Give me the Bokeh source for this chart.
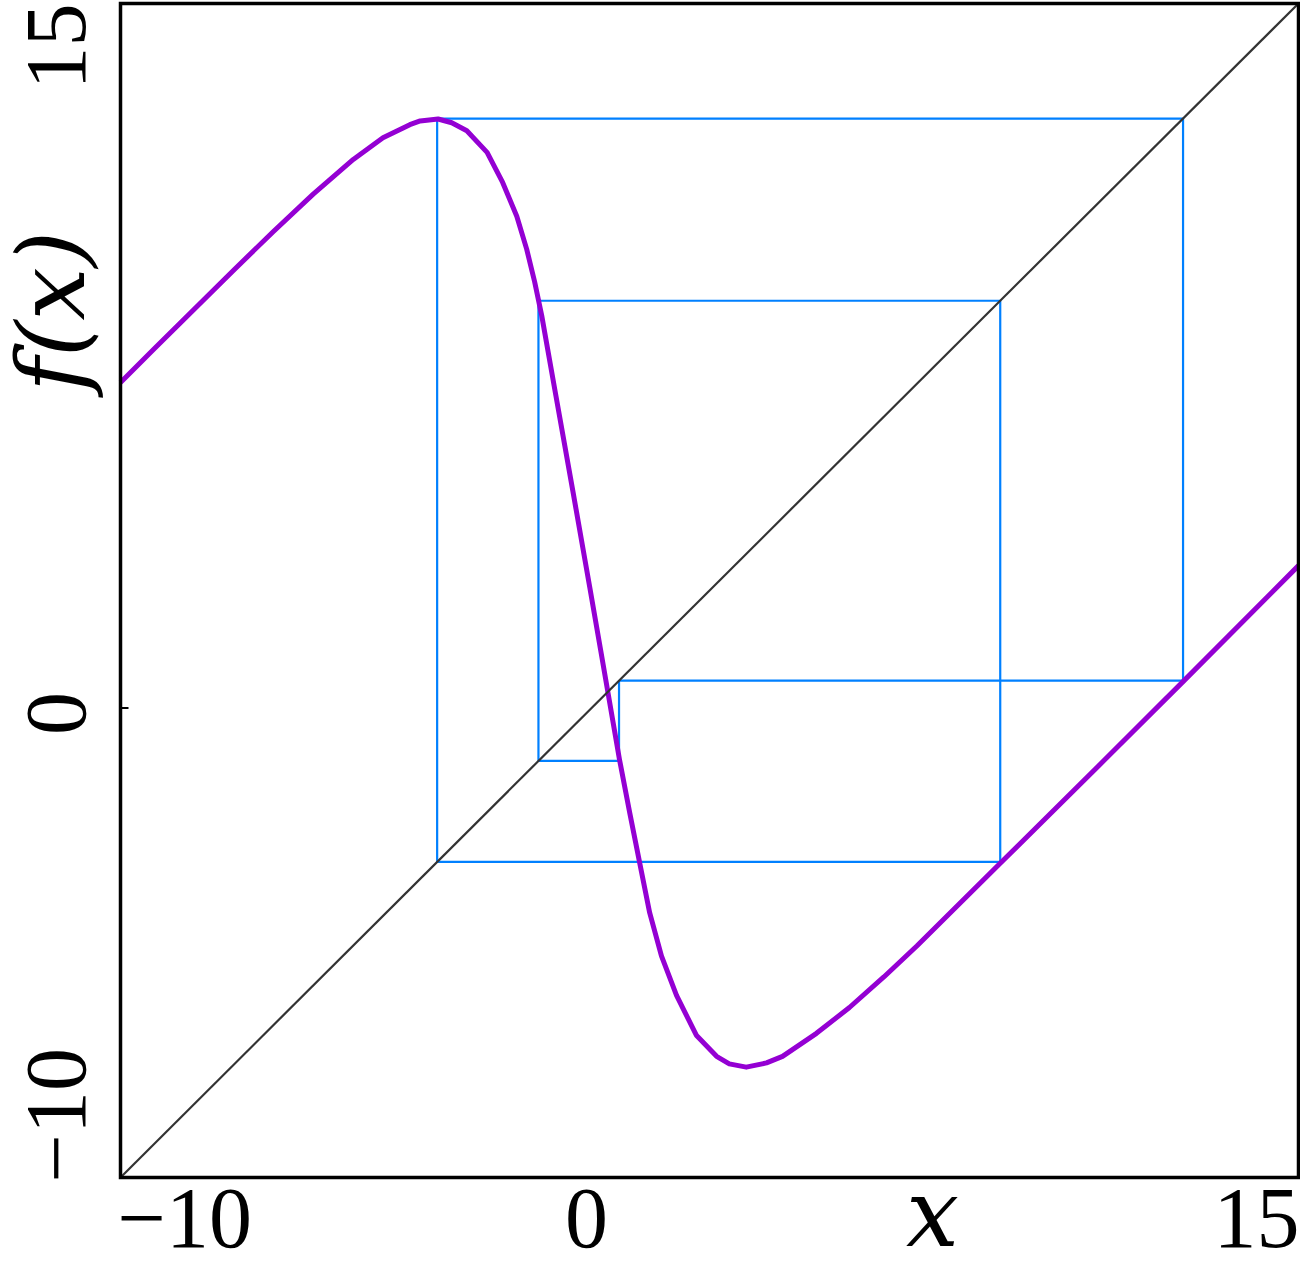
import math
from bokeh.plotting import figure
from bokeh.models import Label, Range1d
from bokeh.embed import file_html
from bokeh.resources import INLINE

# ---- data ----
curve_x = [-10.0, -9.30, -7.61, -6.76, -5.91, -5.06, -4.43, -3.86, -3.64, -3.26,
           -2.97, -2.65, -2.22, -1.89, -1.59, -1.38, -1.21, -1.06, -0.76, -0.40,
           -0.04, 0.19, 0.35, 0.59, 0.81, 1.02, 1.23, 1.48, 1.80, 2.22,
           2.65, 2.92, 3.28, 3.71, 4.05, 4.77, 5.47, 6.20, 6.90, 8.67,
           10.76, 12.56, 15.0]
curve_y = [6.93, 7.63, 9.31, 10.14, 10.94, 11.68, 12.14, 12.42, 12.50, 12.54,
           12.46, 12.29, 11.83, 11.19, 10.47, 9.77, 9.07, 8.35, 6.65, 4.62,
           2.56, 1.23, 0.30, -1.10, -2.25, -3.31, -4.36, -5.28, -6.12, -6.97,
           -7.42, -7.58, -7.65, -7.56, -7.42, -6.93, -6.38, -5.73, -5.07, -3.31,
           -1.23, 0.57, 3.03]

orbit = [0.58, -1.13, 8.67, -3.28, 12.55]   # period-5 cycle drawn as the cobweb
diag = [-10, 15]

x_ticks = [-10, 0, 15]
y_ticks = [-10, 0, 15]
x_tick_labels = ["\u221210", "0", "15"]
y_tick_labels = ["\u221210", "0", "15"]
x_label = "x"
y_label = "f(x)"

# cobweb path built from the orbit
web_x, web_y = [], []
for i, v in enumerate(orbit):
    nxt = orbit[(i + 1) % len(orbit)]
    web_x += [v, v]
    web_y += [v, nxt]
web_x.append(orbit[0])
web_y.append(orbit[0])

# ---- layout (the plot frame fills the canvas; the box is drawn as a glyph) ----
W, H = 1300, 1259
XMIN, XMAX, YMIN, YMAX = -10, 15, -10, 15
FL, FR, FT, FB = 120, 1298, 3, 1177     # box edges in canvas pixels
PX = (FR - FL) / (XMAX - XMIN)
PY = (FB - FT) / (YMAX - YMIN)


def xd(px):
    return XMIN + (px - FL) / PX


def yd(py):
    return YMIN + (FB - py) / PY


p = figure(width=W, height=H,
           x_range=Range1d(xd(0), xd(W)), y_range=Range1d(yd(H), yd(0)),
           output_backend="svg", toolbar_location=None,
           x_axis_location=None, y_axis_location=None,
           min_border=0, min_border_left=0, min_border_right=0,
           min_border_top=0, min_border_bottom=0)
p.background_fill_color = "white"
p.border_fill_color = "white"
p.outline_line_color = None
p.xgrid.visible = False
p.ygrid.visible = False

# cobweb, curve, diagonal
p.line(web_x, web_y, line_color="#0080FF", line_width=2.2)
p.line(curve_x, curve_y, line_color="#9400D3", line_width=5.0, line_join="round")
p.line(diag, diag, line_color="#333333", line_width=2.2)

# box and the single inner tick at y = 0
p.quad(left=[XMIN], right=[XMAX], bottom=[YMIN], top=[YMAX], fill_color=None,
       line_color="black", line_width=3.5, line_join="miter")
p.segment(x0=[XMIN], y0=[y_ticks[1]], x1=[XMIN + 8 / PX], y1=[y_ticks[1]],
          line_color="black", line_width=2)

TF = "Liberation Serif"
TSZ = 86
LF = "DejaVu Serif"
LSZ = 94
SHIFT = 0.37   # measured offset of the rendered baseline, in em


def lab(x, y, text, align, font, size, angle=0.0, italic=False):
    p.add_layout(Label(x=x, y=y, text=text, text_align=align, angle=angle,
                       text_baseline="alphabetic", text_font=font,
                       text_font_size=f"{size}px", text_color="black",
                       text_font_style="italic" if italic else "normal"))


# bottom tick labels and x label
BASE = 1250
lab(xd(117), yd(BASE - SHIFT * TSZ), x_tick_labels[0], "left", TF, TSZ)
lab(xd(586), yd(BASE - SHIFT * TSZ), x_tick_labels[1], "center", TF, TSZ)
lab(xd(1299), yd(BASE - SHIFT * TSZ), x_tick_labels[2], "right", TF, TSZ)
lab(xd(932), yd(BASE - 2 - SHIFT * LSZ), x_label, "center", LF, LSZ, italic=True)

# left tick labels (rotated) and y label
rot = math.pi / 2
lx = xd(88 - SHIFT * TSZ)
lab(lx, yd(1182), y_tick_labels[0], "left", TF, TSZ, angle=rot)
lab(lx, yd(713), y_tick_labels[1], "center", TF, TSZ, angle=rot)
lab(lx, yd(3), y_tick_labels[2], "right", TF, TSZ, angle=rot)
lab(xd(86 - SHIFT * LSZ), yd(311), y_label, "center", LF, LSZ, angle=rot, italic=True)

open("out.html", "w").write(file_html(p, INLINE))
